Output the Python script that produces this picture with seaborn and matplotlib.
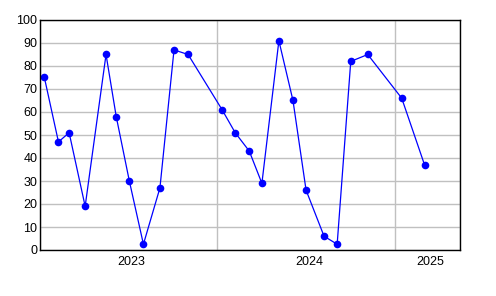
import matplotlib
matplotlib.use("Agg")
import matplotlib.pyplot as plt
import matplotlib.dates as mdates
import seaborn as sns
import pandas as pd

dates = ["2023-01-10", "2023-02-08", "2023-03-02", "2023-04-04", "2023-05-17", "2023-06-07",
         "2023-07-04", "2023-08-02", "2023-09-05", "2023-10-04", "2023-11-02",
         "2024-01-11", "2024-02-07", "2024-03-07", "2024-04-02", "2024-05-07", "2024-06-05",
         "2024-07-02", "2024-08-08", "2024-09-04", "2024-10-02", "2024-11-06",
         "2025-01-15", "2025-03-03"]
values = [75, 47, 51, 19, 85, 58, 30, 2.5, 27, 87, 85,
          61, 51, 43, 29, 91, 65, 26, 6, 2.5, 82, 85, 66, 37]
year_labels = ["2023", "2024", "2025"]

df = pd.DataFrame({"date": pd.to_datetime(dates), "value": values})

sns.set_style("white")
plt.rcParams["font.family"] = ["Liberation Sans", "DejaVu Sans"]

fig = plt.figure(figsize=(4.96, 2.96), dpi=100)
ax = fig.add_axes([40/496, 46/296, 420/496, 230/296])

sns.lineplot(data=df, x="date", y="value", ax=ax, color="#0000ff", linewidth=0.9,
             marker="o", markersize=5.5, markeredgewidth=0, sort=False)

x0 = pd.Timestamp("2023-01-01")
x1 = pd.Timestamp("2025-05-15")
ax.set_xlim(x0, x1)
ax.set_ylim(0, 100)

major = [pd.Timestamp("2023-01-01"), pd.Timestamp("2024-01-01"), pd.Timestamp("2025-01-01"), x1]
ax.set_xticks([mdates.date2num(d) for d in major])
ax.set_xticklabels([])
mids = []
for a, b in zip(major[:-1], major[1:]):
    mids.append(mdates.date2num(a) + (mdates.date2num(b) - mdates.date2num(a)) / 2 + 6)
ax.set_xticks(mids, minor=True)
ax.set_xticklabels(year_labels, minor=True)
ax.tick_params(axis="x", which="major", length=5, width=1, color="black", direction="out")
ax.tick_params(axis="x", which="minor", length=0, pad=4, labelsize=9, labelcolor="black")

ax.set_yticks(range(0, 101, 10))
ax.tick_params(axis="y", length=0, pad=2, labelsize=9, labelcolor="black")

ax.grid(True, which="major", color="#c0c0c0", linewidth=1)
ax.set_axisbelow(True)
# hide gridline at the right-end tick (coincides with spine anyway)
for sp in ax.spines.values():
    sp.set_color("black")
    sp.set_linewidth(1)
ax.set_xlabel("")
ax.set_ylabel("")

fig.savefig("out.png", dpi=100)
